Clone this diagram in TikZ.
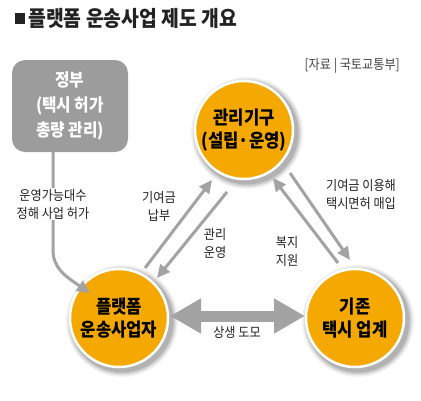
\documentclass[tikz,border=0pt]{standalone}
\usepackage{fontspec}
\setmainfont{Noto Sans CJK KR}[FakeStretch=0.9]
\usetikzlibrary{arrows.meta}
\definecolor{orng}{HTML}{F5A800}
\definecolor{arrgray}{HTML}{A3A3A3}
\definecolor{govgray}{HTML}{9C9C9C}
\definecolor{txt}{HTML}{222222}
\begin{document}
\begin{tikzpicture}[x=1pt,y=-1pt,
  circ/.style={circle,fill=orng,draw=white,line width=2.5pt,minimum size=98pt,inner sep=0pt,
    font=\bfseries\fontsize{18.5}{23}\selectfont,align=center,text=black},
  lbl/.style={font=\fontsize{13.5}{18}\selectfont,align=center,text=txt,inner sep=1pt},
  conn/.style={draw=arrgray,line width=3pt,-{Triangle[length=13pt,width=12pt]}},
]
\useasboundingbox[fill=white] (0,0) rectangle (421,400);
% title
\fill[txt] (15,13) rectangle (25,24);
\node[anchor=west,inner sep=0pt,font=\bfseries\fontsize{21.5}{24}\selectfont,text=txt] (title) at (28,18.5) {플랫폼 운송사업 제도 개요};
% source
\node[anchor=east,inner sep=0pt,font=\fontsize{13.5}{15}\selectfont,text=txt!85] (src) at (400,66) {[자료 | 국토교통부]};
% government box
\node[fill=govgray,rounded corners=13pt,minimum width=116pt,minimum height=92pt,inner sep=0pt,
  text=white,font=\bfseries\fontsize{17.5}{25}\selectfont,align=center] (gov) at (70,106) {정부\\(택시 허가\\총량 관리)};
% shadows
\foreach \c/\x/\y in {A/244/130,B/119/318,C/355/318}{
  \foreach \r/\o in {56/0.05,54.5/0.07,53/0.09,51.5/0.12}{
    \fill[black,opacity=\o] (\x+3,\y+3) circle (\r);
  }
}
% circles
\node[circ] (mgmt) at (244,130) {관리기구\\(설립·운영)};
\node[circ] (plat) at (119,318) {플랫폼\\운송사업자};
\node[circ] (taxi) at (355,318) {기존\\택시 업계};
% coordinates for diagonal connectors
\coordinate (p1) at (145,268);
\coordinate (m1) at (212,180);
\coordinate (m2) at (227,192);
\coordinate (p2) at (157,278);
\coordinate (m3) at (290,173);
\coordinate (t3) at (350,260);
\coordinate (t4) at (338,263);
\coordinate (m4) at (273,178);
\draw[conn] (p1) -- (m1);
\draw[conn] (m2) -- (p2);
\draw[conn] (m3) -- (t3);
\draw[conn] (t4) -- (m4);
% gov -> platform
\coordinate (g1) at (53,152);
\coordinate (g2) at (90,293);
\draw[conn] (g1) -- (53,250) .. controls (53,268) and (65,276) .. (g2);
\node[lbl,fill=white] (lg) at (53,204) {운영가능대수\\정해 사업 허가};
% double arrow
\coordinate (dl) at (170,316);
\coordinate (dr) at (305,316);
\draw[arrgray,line width=11pt,{Triangle[length=31pt,width=33pt]}-{Triangle[length=31pt,width=33pt]}] (dl) -- (dr);
% labels
\node[lbl] (l1) at (159,206) {기여금\\납부};
\node[lbl] (l2) at (215,243) {관리\\운영};
\node[lbl] (l3) at (287,251) {복지\\지원};
\node[lbl] (l4) at (361,194) {기여금 이용해\\택시면허 매입};
\node[lbl] (l5) at (237,332) {상생 도모};
\end{tikzpicture}
\end{document}
